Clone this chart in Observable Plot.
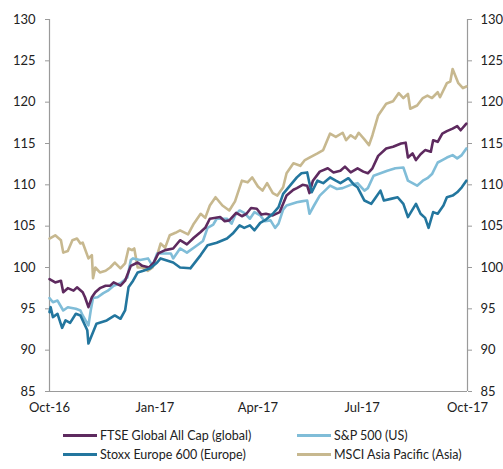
<!DOCTYPE html>
<html>
<head>
<meta charset="utf-8">
<script src="https://cdn.jsdelivr.net/npm/d3@7"></script>
<script src="https://cdn.jsdelivr.net/npm/@observablehq/plot@0.6"></script>
<style>
  body { margin: 0; background: #fff; font-family: Lato, "Open Sans", sans-serif; }
  #wrap { width: 503px; position: relative; }
  #legend { position: relative; height: 49px; font-size: 12.5px; color: #222; }
  .item { position: absolute; display: flex; align-items: center; white-space: nowrap; }
  .sw { display: inline-block; width: 34px; height: 3px; margin-right: 3px; }
</style>
</head>
<body>
<div id="wrap">
  <div id="chart"></div>
  <div id="legend"></div>
</div>
<script>
const seriesNames = ["FTSE Global All Cap (global)", "S&P 500 (US)", "Stoxx Europe 600 (Europe)", "MSCI Asia Pacific (Asia)"];
const seriesColors = ["#5e2a5f", "#80bdd8", "#23769e", "#c7b88f"];
const yTicks = [85, 90, 95, 100, 105, 110, 115, 120, 125, 130];
const xTicks = ["2016-10-01", "2017-01-01", "2017-04-01", "2017-07-01", "2017-10-01"];
const xTickLabels = ["Oct-16", "Jan-17", "Apr-17", "Jul-17", "Oct-17"];

const ftse = [["2016-10-01",98.6],["2016-10-06",98.2],["2016-10-11",98.4],["2016-10-13",97],["2016-10-17",97.5],["2016-10-22",97.2],["2016-10-25",97.6],["2016-10-30",97],["2016-11-01",96.4],["2016-11-04",95.2],["2016-11-07",96.4],["2016-11-10",97],["2016-11-14",97.5],["2016-11-19",97.8],["2016-11-23",97.8],["2016-11-26",98.2],["2016-12-02",97.8],["2016-12-06",98.4],["2016-12-11",100.2],["2016-12-17",100.6],["2016-12-21",100.2],["2016-12-27",100],["2016-12-31",100.6],["2017-01-04",101.7],["2017-01-10",102.1],["2017-01-17",102.3],["2017-01-23",103.3],["2017-01-29",102.8],["2017-02-04",103.6],["2017-02-10",104.3],["2017-02-14",104.8],["2017-02-18",105.9],["2017-02-27",106.1],["2017-03-03",105.6],["2017-03-07",105.7],["2017-03-13",106.6],["2017-03-18",106.2],["2017-03-22",106.5],["2017-03-26",107.2],["2017-03-31",107.1],["2017-04-04",106.4],["2017-04-08",106.5],["2017-04-14",106.3],["2017-04-20",106.7],["2017-04-26",108.7],["2017-05-02",109.4],["2017-05-05",109.6],["2017-05-10",110],["2017-05-14",109.9],["2017-05-16",109],["2017-05-19",110.5],["2017-05-25",111.6],["2017-06-01",112],["2017-06-06",111.5],["2017-06-12",111.7],["2017-06-16",112.2],["2017-06-21",111.5],["2017-06-27",112],["2017-07-02",111.6],["2017-07-06",111.4],["2017-07-10",112],["2017-07-15",113.5],["2017-07-22",114.4],["2017-07-28",114.6],["2017-08-04",115],["2017-08-08",115.1],["2017-08-10",113.3],["2017-08-14",113.8],["2017-08-17",113],["2017-08-21",113.7],["2017-08-25",114.2],["2017-08-30",114],["2017-09-01",115.4],["2017-09-05",115.2],["2017-09-09",116.2],["2017-09-13",116.5],["2017-09-18",116.8],["2017-09-22",117.1],["2017-09-25",116.6],["2017-09-30",117.4]];

const sp500 = [["2016-10-01",96.3],["2016-10-04",95.8],["2016-10-08",96],["2016-10-13",94.8],["2016-10-17",95.2],["2016-10-24",95],["2016-10-28",94.8],["2016-10-30",94.2],["2016-11-04",93],["2016-11-06",94.8],["2016-11-08",96.3],["2016-11-12",96.4],["2016-11-17",96.9],["2016-11-21",97.2],["2016-11-26",97.8],["2016-12-02",98.1],["2016-12-08",98.8],["2016-12-11",100.9],["2016-12-13",101.1],["2016-12-19",100.9],["2016-12-26",101.1],["2016-12-30",100.2],["2017-01-03",101.7],["2017-01-08",101.7],["2017-01-15",101.7],["2017-01-17",101.1],["2017-01-23",102.3],["2017-01-29",101.8],["2017-02-07",102.7],["2017-02-12",103.2],["2017-02-16",104.8],["2017-02-21",105.2],["2017-02-24",105.9],["2017-03-05",105.9],["2017-03-09",105.3],["2017-03-12",106.3],["2017-03-16",106.9],["2017-03-20",106.6],["2017-03-25",105.9],["2017-03-29",106.7],["2017-04-03",106.3],["2017-04-07",105.6],["2017-04-12",105.7],["2017-04-16",104.8],["2017-04-19",105.3],["2017-04-23",107],["2017-04-26",107.5],["2017-05-05",107.9],["2017-05-09",108],["2017-05-14",108.1],["2017-05-16",106.5],["2017-05-20",107.5],["2017-05-25",108.7],["2017-06-03",109.9],["2017-06-09",109.5],["2017-06-14",109.6],["2017-06-21",110],["2017-06-27",110.2],["2017-07-03",109.3],["2017-07-06",109.6],["2017-07-11",111.1],["2017-07-17",111.4],["2017-07-23",111.7],["2017-07-30",112],["2017-08-06",112.1],["2017-08-10",110.5],["2017-08-14",110.2],["2017-08-18",109.9],["2017-08-23",110.5],["2017-08-27",110.8],["2017-08-31",111.3],["2017-09-05",112.7],["2017-09-09",113],["2017-09-13",113.3],["2017-09-18",113.6],["2017-09-22",113.2],["2017-09-26",113.6],["2017-09-30",114.4]];

const stoxx = [["2016-10-01",94.6],["2016-10-02",95.2],["2016-10-04",94],["2016-10-08",94.4],["2016-10-12",92.7],["2016-10-15",93.6],["2016-10-19",93.3],["2016-10-24",94.4],["2016-10-28",94.2],["2016-10-30",93.6],["2016-11-03",92.4],["2016-11-04",90.8],["2016-11-11",93.2],["2016-11-20",93.6],["2016-11-27",94.2],["2016-12-02",93.8],["2016-12-06",94.8],["2016-12-09",97.6],["2016-12-13",98.4],["2016-12-17",99.4],["2016-12-22",99.6],["2016-12-28",99.9],["2017-01-03",100.6],["2017-01-06",101.1],["2017-01-17",100.6],["2017-01-23",100],["2017-02-01",99.9],["2017-02-10",101.5],["2017-02-16",102.7],["2017-02-24",103],["2017-03-05",103.5],["2017-03-10",104.1],["2017-03-16",105.1],["2017-03-20",104.8],["2017-03-25",105.1],["2017-03-29",104.5],["2017-04-03",105.4],["2017-04-08",105.8],["2017-04-14",106.5],["2017-04-19",107.3],["2017-04-23",108.9],["2017-04-29",109.9],["2017-05-05",110.9],["2017-05-09",111.4],["2017-05-14",111.5],["2017-05-16",110.2],["2017-05-18",109.1],["2017-05-23",110.5],["2017-05-28",110.2],["2017-06-03",110.9],["2017-06-08",110.5],["2017-06-12",110.2],["2017-06-19",110.8],["2017-06-24",110],["2017-06-27",109.7],["2017-07-03",108.1],["2017-07-09",107.7],["2017-07-13",108.5],["2017-07-17",109.3],["2017-07-20",108.1],["2017-07-26",108.3],["2017-08-01",108.5],["2017-08-06",107.7],["2017-08-10",106.1],["2017-08-17",107.7],["2017-08-21",106.5],["2017-08-25",106],["2017-08-28",104.8],["2017-09-01",106.7],["2017-09-05",106.5],["2017-09-10",107.5],["2017-09-13",108.5],["2017-09-18",108.7],["2017-09-22",109.1],["2017-09-26",109.7],["2017-09-30",110.5]];

const msciAsia = [["2016-10-01",103.5],["2016-10-06",103.9],["2016-10-11",103.3],["2016-10-13",101.8],["2016-10-17",102],["2016-10-21",103.3],["2016-10-25",103.5],["2016-10-28",102.9],["2016-10-30",103],["2016-11-04",101.1],["2016-11-07",101.5],["2016-11-08",98.7],["2016-11-10",100],["2016-11-14",99.4],["2016-11-19",99.6],["2016-11-23",100],["2016-11-27",100.6],["2016-12-02",99.9],["2016-12-06",100.5],["2016-12-09",102.3],["2016-12-12",102.1],["2016-12-14",102.3],["2016-12-17",100],["2016-12-21",100],["2016-12-26",99.6],["2016-12-30",100],["2017-01-03",101.5],["2017-01-06",102.9],["2017-01-10",102.4],["2017-01-14",103.9],["2017-01-19",104.2],["2017-01-23",104.5],["2017-01-30",104],["2017-02-04",105.3],["2017-02-10",106.5],["2017-02-14",106],["2017-02-18",107.5],["2017-02-23",108.5],["2017-03-01",107.5],["2017-03-07",106.9],["2017-03-12",108],["2017-03-18",110.5],["2017-03-23",110.3],["2017-03-27",110.9],["2017-04-01",109.8],["2017-04-05",109.3],["2017-04-09",110.2],["2017-04-14",109],["2017-04-18",108.7],["2017-04-23",109.7],["2017-04-26",111.4],["2017-05-02",112.6],["2017-05-08",112.3],["2017-05-12",113],["2017-05-16",113.3],["2017-05-23",113.8],["2017-05-28",114.2],["2017-06-03",116.2],["2017-06-08",115.8],["2017-06-14",116.3],["2017-06-17",115.4],["2017-06-21",116],["2017-06-25",115.6],["2017-06-28",116.3],["2017-07-03",115.5],["2017-07-07",114.8],["2017-07-10",116],["2017-07-15",118.4],["2017-07-22",119.8],["2017-07-28",120.1],["2017-08-02",121.1],["2017-08-06",120.5],["2017-08-10",121],["2017-08-12",119.2],["2017-08-18",119.6],["2017-08-23",120.5],["2017-08-27",120.8],["2017-08-31",120.5],["2017-09-05",121.2],["2017-09-07",120.6],["2017-09-13",122.3],["2017-09-16",122.5],["2017-09-18",124],["2017-09-23",122.3],["2017-09-27",121.7],["2017-09-30",121.9]];

const seriesData = [ftse, sp500, stoxx, msciAsia];
const parse = s => new Date(s + "T00:00:00Z");
const rows = [];
seriesData.forEach((arr, i) => arr.forEach(([d, v]) => rows.push({date: parse(d), value: v, series: seriesNames[i]})));
const drawOrder = [3, 1, 0, 2];
const xDomain = [parse(xTicks[0]), parse(xTicks[xTicks.length - 1])];
const tickDates = xTicks.map(parse);
const labelFor = d => xTickLabels[tickDates.findIndex(t => +t === +d)];

const axisColor = "#9a9a9a";
const chart = Plot.plot({
  width: 503,
  height: 420,
  marginLeft: 49,
  marginRight: 36,
  marginTop: 19,
  marginBottom: 29,
  style: {fontFamily: "Lato, 'Open Sans', sans-serif", fontSize: "13px", color: "#222", background: "#fff"},
  x: {type: "utc", domain: xDomain},
  y: {domain: [85, 130]},
  color: {domain: seriesNames, range: seriesColors},
  marks: [
    Plot.ruleX([xDomain[0]], {stroke: axisColor, strokeWidth: 1.2}),
    Plot.ruleX([xDomain[1]], {stroke: axisColor, strokeWidth: 1.2}),
    Plot.ruleY([85], {stroke: axisColor, strokeWidth: 1.2}),
    Plot.axisY({anchor: "left", ticks: yTicks, tickSize: 4, tickPadding: 10, stroke: axisColor, label: null, tickFormat: d => String(d)}),
    Plot.axisY({anchor: "right", ticks: yTicks, tickSize: 4, tickPadding: 9, stroke: axisColor, label: null, tickFormat: d => String(d)}),
    Plot.axisX({ticks: tickDates, tickSize: 0, tickPadding: 11, label: null, tickFormat: labelFor}),
    ...drawOrder.map(i => Plot.line(rows.filter(r => r.series === seriesNames[i]), {
      x: "date", y: "value", stroke: "series", strokeWidth: 2.6, strokeLinejoin: "round", curve: "linear"
    }))
  ]
});
document.getElementById("chart").appendChild(chart);

const legend = document.getElementById("legend");
const legendPos = [[63, 15], [297, 15], [63, 34], [297, 34]];
seriesNames.forEach((name, i) => {
  const item = document.createElement("div");
  item.className = "item";
  item.style.left = legendPos[i][0] + "px";
  item.style.top = (legendPos[i][1] - 8) + "px";
  item.style.height = "16px";
  const sw = document.createElement("span");
  sw.className = "sw";
  sw.style.background = seriesColors[i];
  const t = document.createElement("span");
  t.textContent = name;
  item.appendChild(sw);
  item.appendChild(t);
  legend.appendChild(item);
});
</script>
</body>
</html>
